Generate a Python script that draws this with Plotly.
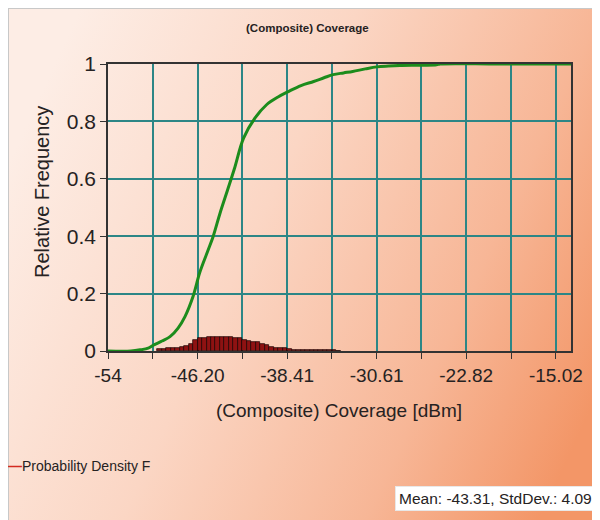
import base64
import plotly.graph_objects as go

# ---------------- data ----------------
cdf_x = [-54, -52.0, -51.2, -50.5, -50.06, -49.3, -48.6, -47.9, -47.3, -46.6, -46.0, -45.3,
         -44.84, -44.25, -43.6, -43.0, -42.2, -41.2, -40.2, -39.2, -38.3, -37.2, -36.1, -35.2,
         -34.4, -33.5, -32.7, -31.6, -30.6, -29.6, -28.6, -27.0, -25.4, -25.1, -20.0, -13.7]
cdf_y = [0, 0, 0.004, 0.01, 0.02, 0.035, 0.05, 0.08, 0.12, 0.19, 0.275, 0.35,
         0.40, 0.48, 0.56, 0.635, 0.742, 0.812, 0.858, 0.885, 0.904, 0.925, 0.939, 0.952,
         0.963, 0.969, 0.974, 0.983, 0.99, 0.993, 0.995, 0.996, 0.997, 1.0, 1.0, 1.0]

pdf_x = [-49.518, -49.128, -48.738, -48.349, -47.959, -47.569, -47.179, -46.789, -46.400,
         -46.010, -45.620, -45.230, -44.840, -44.451, -44.061, -43.671, -43.281, -42.891,
         -42.502, -42.112, -41.722, -41.332, -40.942, -40.553, -40.163, -39.773, -39.383,
         -38.993, -38.604, -38.214, -37.824, -37.434, -37.044, -36.655, -36.265, -35.875,
         -35.485, -35.095, -34.706, -34.316, -33.926]
pdf_y = [0.007, 0.008, 0.009, 0.010, 0.012, 0.014, 0.018, 0.026, 0.040,
         0.047, 0.047, 0.049, 0.049, 0.049, 0.049, 0.049, 0.049, 0.047,
         0.044, 0.038, 0.035, 0.030, 0.030, 0.024, 0.020, 0.014, 0.012,
         0.012, 0.011, 0.008, 0.005, 0.004, 0.004, 0.003, 0.003, 0.003,
         0.002, 0.002, 0.002, 0.002, 0.001]
bin_width = 0.38975

x_tickvals = [-54, -46.20, -38.41, -30.61, -22.82, -15.02]
x_ticktext = ["-54", "-46.20", "-38.41", "-30.61", "-22.82", "-15.02"]
y_tickvals = [0, 0.2, 0.4, 0.6, 0.8, 1]
y_ticktext = ["0", "0.2", "0.4", "0.6", "0.8", "1"]

title_text = "(Composite) Coverage"
x_title = "(Composite) Coverage [dBm]"
y_title = "Relative Frequency"
legend_text = "Probability Density F"
stats_text = "Mean: -43.31, StdDev.: 4.09"

# ---------------- layout helpers (figure sits at page offset 8,8) ----------------
W, H = 600, 520
OFF = 8
L, R, T, B = 108 - OFF, 571 - OFF, 64 - OFF, 351 - OFF
PW, PH = R - L, B - T


def px(page_x):
    return (page_x - OFF - L) / PW


def py(page_y):
    return (B - (page_y - OFF)) / PH


FONT = "Liberation Sans, Arial, sans-serif"
TXT = "#262222"
GRID = "#2c8686"

svg = f'''<svg xmlns="http://www.w3.org/2000/svg" width="{W}" height="{H}" viewBox="0 0 {W} {H}" preserveAspectRatio="none">
<defs><linearGradient id="g" x1="0" y1="0.3" x2="1" y2="0.7">
<stop offset="0" stop-color="#fdede5"/>
<stop offset="0.4" stop-color="#fbd6c4"/>
<stop offset="0.75" stop-color="#f7b696"/>
<stop offset="1" stop-color="#f39667"/>
</linearGradient></defs>
<rect x="0" y="0" width="{W}" height="{H}" fill="url(#g)" stroke="#c8c8c8" stroke-width="2"/>
</svg>'''
svg_uri = "data:image/svg+xml;base64," + base64.b64encode(svg.encode()).decode()

fig = go.Figure()
fig.add_trace(go.Bar(x=pdf_x, y=pdf_y, width=bin_width,
                     marker=dict(color="#8e1212", line=dict(color="#1a0000", width=0.7)),
                     showlegend=False, name=legend_text))
fig.add_trace(go.Scatter(x=cdf_x, y=cdf_y, mode="lines", line=dict(color="#1c8c1c", width=3),
                         line_shape="spline", showlegend=False, name="CDF"))

fig.update_layout(
    width=W, height=H,
    margin=dict(l=L, r=W - R, t=T, b=H - B),
    paper_bgcolor="white",
    plot_bgcolor="rgba(0,0,0,0)",
    bargap=0,
    images=[dict(source=svg_uri, xref="paper", yref="paper", x=-L / PW, y=(B) / PH,
                 sizex=W / PW, sizey=H / PH, xanchor="left", yanchor="top",
                 sizing="stretch", layer="below")],
    xaxis=dict(range=[-54, -13.7], tickmode="array", tickvals=x_tickvals, ticktext=x_ticktext,
               showgrid=True, gridcolor=GRID, gridwidth=1.6, zeroline=False,
               showline=True, linecolor="#333333", linewidth=1.5, mirror=True,
               ticks="outside", ticklen=6, tickcolor="#333333",
               tickfont=dict(family=FONT, size=19, color=TXT),
               minor=dict(tick0=-54, dtick=3.8975, showgrid=True, gridcolor=GRID, gridwidth=1.6,
                          ticks="outside", ticklen=6, tickcolor="#333333")),
    yaxis=dict(range=[0, 1], tickmode="array", tickvals=y_tickvals, ticktext=y_ticktext,
               showgrid=True, gridcolor=GRID, gridwidth=1.6, zeroline=False,
               showline=True, linecolor="#333333", linewidth=1.5, mirror=True,
               ticks="outside", ticklen=6, tickcolor="#333333",
               tickfont=dict(family=FONT, size=21, color=TXT)),
    annotations=[
        dict(text=f"<b>{title_text}</b>", xref="paper", yref="paper", x=px(307), y=py(28),
             xanchor="center", yanchor="middle",
             showarrow=False, font=dict(family=FONT, size=11.5, color=TXT)),
        dict(text=y_title, xref="paper", yref="paper", x=px(42), y=py(192), textangle=-90,
             xanchor="center", yanchor="middle",
             showarrow=False, font=dict(family=FONT, size=20, color=TXT)),
        dict(text=x_title, xref="paper", yref="paper", x=px(339), y=py(410),
             xanchor="center", yanchor="middle",
             showarrow=False, font=dict(family=FONT, size=19, color=TXT)),
        dict(text=f"<span style='color:#d42a20'><b>—</b></span>{legend_text}", xref="paper", yref="paper",
             x=px(6), y=py(466), xanchor="left", yanchor="middle", showarrow=False,
             font=dict(family=FONT, size=14, color=TXT)),
        dict(text=stats_text, xref="paper", yref="paper", x=px(395), y=py(498),
             xanchor="left", yanchor="middle",
             showarrow=False, bgcolor="white", bordercolor="#e8e8e8", borderpad=3,
             font=dict(family=FONT, size=15.5, color=TXT)),
    ],
)

fig.write_html("out.html")
